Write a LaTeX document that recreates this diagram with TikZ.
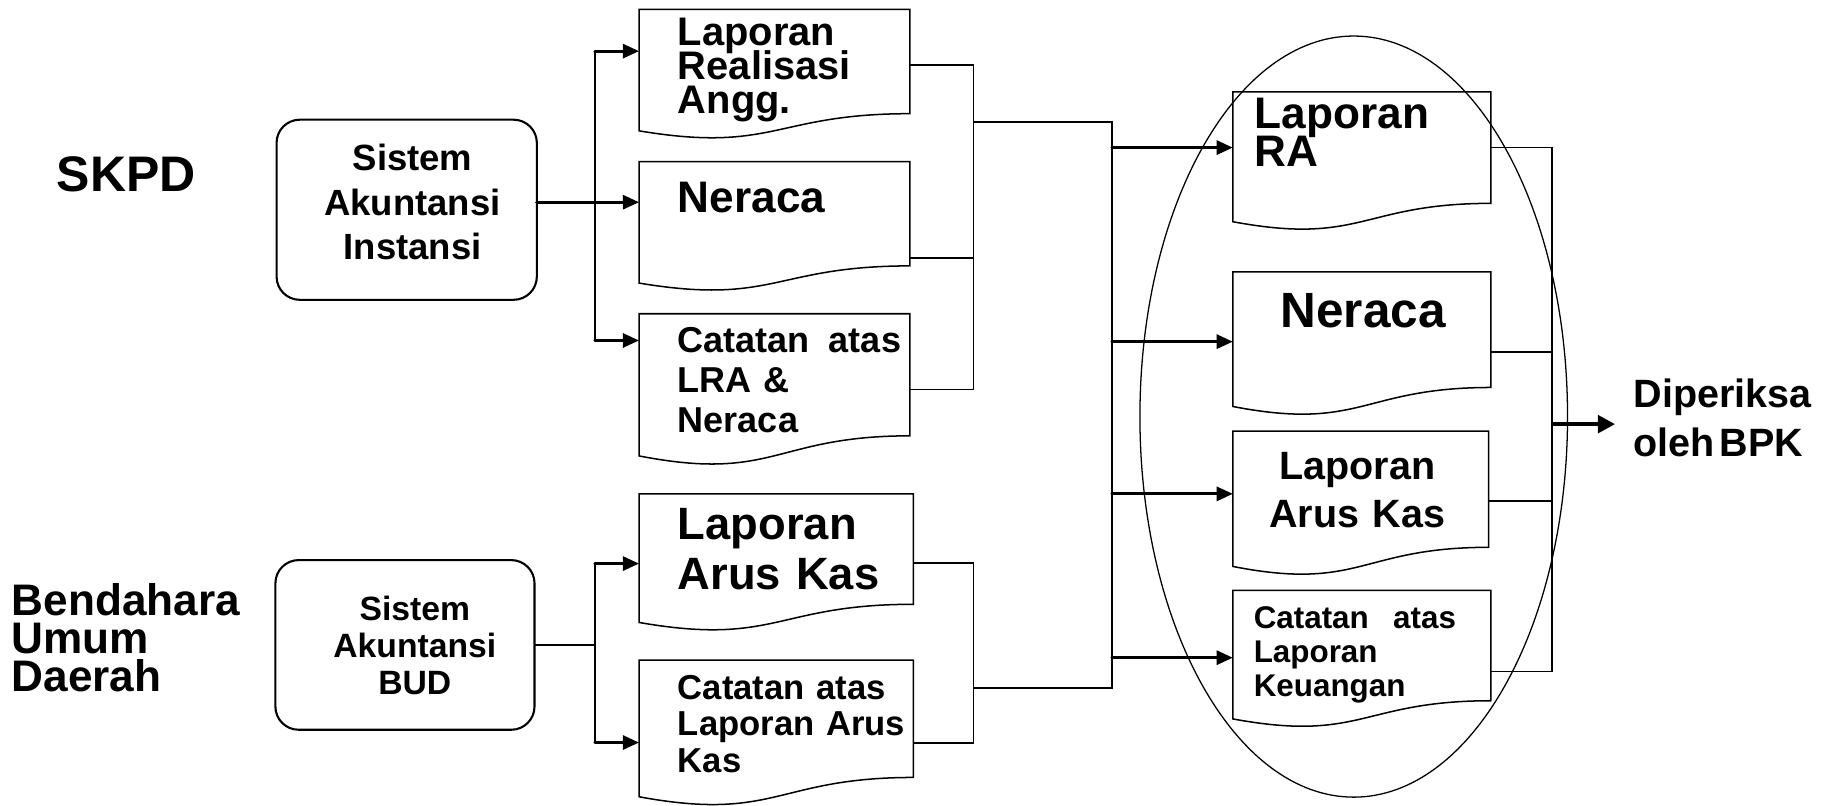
\documentclass[tikz,border=0pt]{standalone}
\usepackage{fontspec}
\setmainfont{Liberation Sans}
\usetikzlibrary{arrows.meta,shapes.geometric,calc}
\newcommand\tf[2]{\fontsize{#1pt}{#2pt}\selectfont\bfseries\lineskiplimit=-100pt\relax}
\newcommand\docpath[1]{\draw[docline] let \p1=(#1.north west), \p2=(#1.south east) in
  (\x1,\y1) -- (\x2,\y1) -- (\x2,{\y1-0.802*(\y1-\y2)})
  .. controls ({(\x1+\x2)/2},{\y1-0.802*(\y1-\y2)}) and ({(\x1+\x2)/2},{\y1-1.107*(\y1-\y2)}) ..
  (\x1,{\y1-0.934*(\y1-\y2)}) -- cycle;}
\newcommand\docnode[5]{\node[docbox, minimum width=#4*0.5pt, minimum height=#5*0.5pt] (#1) at (#2,#3) {};\docpath{#1}}
\tikzset{
  docbox/.style={draw=none, rectangle, inner sep=0pt, outer sep=0pt, anchor=north west},
  docline/.style={line width=0.65pt, line join=miter},
  sysbox/.style={draw, rectangle, rounded corners=10pt, line width=0.9pt, inner sep=0pt, outer sep=0pt, anchor=north west},
  conn/.style={line width=0.62pt},
  arr/.style={line width=1.4pt, line cap=round, -{Triangle[length=7pt,width=6pt]}},
  bigarr/.style={line width=2pt, -{Triangle[length=7.5pt,width=7.5pt]}},
  txt/.style={inner sep=0pt, outer sep=0pt, anchor=base west, align=left},
  ctxt/.style={inner sep=0pt, outer sep=0pt, anchor=base, align=center},
}
\begin{document}
\begin{tikzpicture}[x=0.5pt,y=-0.5pt]
\useasboundingbox (0,0) rectangle (1568,693);

% left labels
\node[txt, text width=80pt, font=\tf{21.5}{25}] (skpd) at (49,165) {SKPD};
\node[txt, text width=120pt, font=\tf{19}{16.35}] (bud) at (10,529.4) {Bendahara\\Umum\\Daerah};

% system boxes
\node[sysbox, minimum width=112pt, minimum height=77.5pt] (A) at (238,103) {};
\node[ctxt, text width=110pt, font=\tf{15.7}{19.15}] (At) at (355,147) {Sistem\\Akuntansi\\Instansi};
\node[sysbox, minimum width=111.5pt, minimum height=73pt] (B) at (237,482) {};
\node[ctxt, text width=110pt, font=\tf{14.5}{16}] (Bt) at (357,534) {Sistem\\Akuntansi\\BUD};

% documents
\docnode{D1}{550}{8}{233}{112}
\docnode{D2}{550}{139}{233}{112}
\docnode{D3}{550}{270}{233}{131}
\docnode{D4}{550}{425}{236}{118.5}
\docnode{D5}{550}{568}{236}{126}
\docnode{R1}{1061}{79}{222}{119.7}
\docnode{R2}{1061}{234}{222}{124}
\docnode{R3}{1061}{371}{220}{124.7}
\docnode{R4}{1061}{508}{222}{118.5}

% document texts
\node[txt, text width=110pt, font=\tf{17.15}{14.65}] (D1t) at (583.4,38.9) {Laporan\\Realisasi\\Angg.};
\node[txt, text width=110pt, font=\tf{19}{20}] (D2t) at (583.4,182.7) {Neraca};
\node[txt, text width=110pt, font=\tf{15.5}{17.15}] (D3t) at (583.4,303.4) {Catatan\hspace{3pt} atas\\LRA \&\\Neraca};
\node[txt, text width=110pt, font=\tf{19.5}{21.45}] (D4t) at (583.4,464.5) {Laporan\\Arus Kas};
\node[txt, text width=110pt, font=\tf{14.9}{15.75}] (D5t) at (583.4,601.7) {Catatan atas\\Laporan Arus\\Kas};
\node[txt, text width=110pt, font=\tf{19}{16.25}] (R1t) at (1080,110.5) {Laporan\\RA};
\node[txt, text width=110pt, font=\tf{21.3}{22}] (R2t) at (1102,282) {Neraca};
\node[ctxt, text width=100pt, font=\tf{17}{20.75}] (R3t) at (1168,412.5) {Laporan\\Arus Kas};
\node[txt, text width=87pt, font=\tf{13.5}{14.5}] (R4t) at (1079,541) {Catatan\hfill atas\\Laporan\\Keuangan};
\node[txt, text width=90pt, font=\tf{17}{20.75}] (Dp) at (1406,351) {Diperiksa\\oleh\hspace{2pt}BPK};

% ellipse
\node[draw, ellipse, line width=0.55pt, minimum width=184pt, minimum height=327.5pt, inner sep=0pt] (E) at (1165,358.5) {};

% SKPD bus
\coordinate (b1t) at (512,44);
\coordinate (b1b) at (512,293);
\coordinate (a2) at ([yshift=3.25pt]A.east);
\draw[conn] (b1t) -- (b1b);
\draw[arr] (b1t) -- (b1t -| D1.west);
\draw[arr] (a2) -- (a2 -| D2.west);
\draw[arr] (b1b) -- (b1b -| D3.west);

% BUD bus
\coordinate (b3t) at (512,485);
\coordinate (b3b) at (512,639);
\draw[conn] (B.east) -- (B.east -| b3t);
\draw[conn] (b3t) -- (b3b);
\draw[arr] (b3t) -- (b3t -| D4.west);
\draw[arr] (b3b) -- (b3b -| D5.west);

% merge 1
\coordinate (m1a) at (838,56);
\coordinate (m1b) at (838,222);
\coordinate (m1c) at (838,335);
\coordinate (m1o) at (838,105);
\draw[conn] (m1a -| D1.east) -- (m1a) -- (m1c) -- (m1c -| D3.east);
\draw[conn] (m1b -| D2.east) -- (m1b);
% merge 2
\coordinate (m2a) at (838,484.5);
\coordinate (m2b) at (838,639.5);
\coordinate (m2o) at (838,592);
\draw[conn] (m2a -| D4.east) -- (m2a) -- (m2b) -- (m2b -| D5.east);

% bus 2
\coordinate (b2t) at (957,105);
\coordinate (b2b) at (957,592);
\draw[conn] (m1o) -- (b2t) -- (b2b) -- (m2o);
\coordinate (c1) at (957,127);
\coordinate (c2) at (957,294);
\coordinate (c3) at (957,425);
\coordinate (c4) at (957,566);
\draw[arr] (c1) -- (c1 -| R1.west);
\draw[arr] (c2) -- (c2 -| R2.west);
\draw[arr] (c3) -- (c3 -| R3.west);
\draw[arr] (c4) -- (c4 -| R4.west);

% right merge
\coordinate (r1) at (1335.5,127);
\coordinate (r2) at (1335.5,303);
\coordinate (r3) at (1335.5,431);
\coordinate (r4) at (1335.5,578);
\coordinate (rm) at (1335.5,365);
\draw[conn] (r1 -| R1.east) -- (r1) -- (r4) -- (r4 -| R4.east);
\draw[conn] (r2 -| R2.east) -- (r2);
\draw[conn] (r3 -| R3.east) -- (r3);
\draw[bigarr, shorten >=8pt] (rm) -- (rm -| Dp.west);
\end{tikzpicture}
\end{document}
